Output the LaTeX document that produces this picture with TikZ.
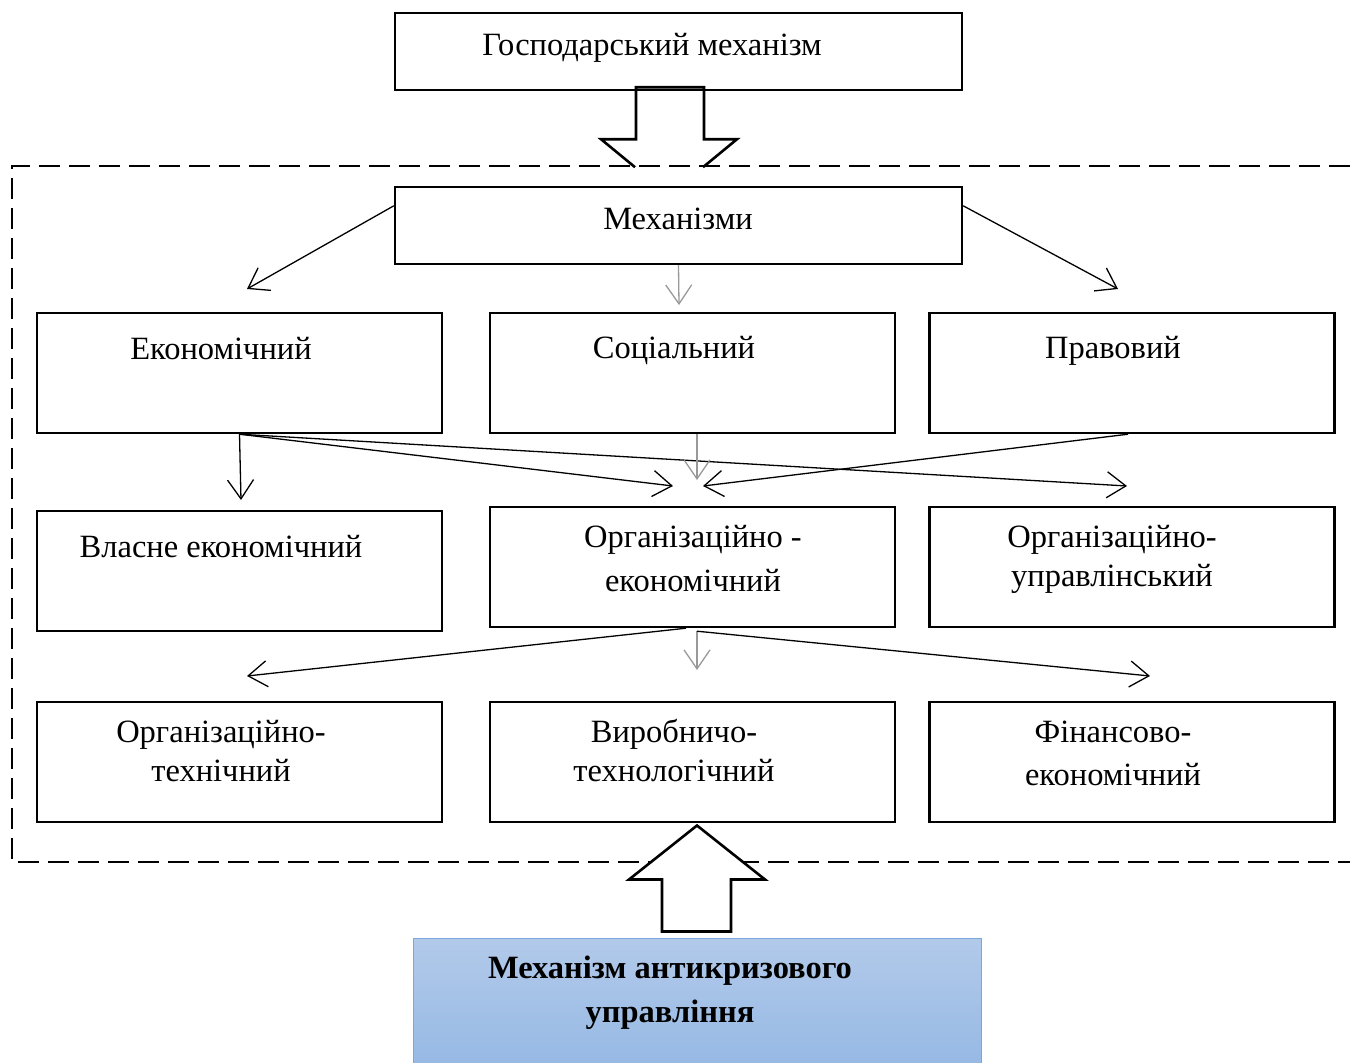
\documentclass[tikz,border=0pt]{standalone}
\usepackage{fontspec}
\setmainfont{Liberation Serif}
\usetikzlibrary{arrows.meta,positioning}
\definecolor{antitop}{HTML}{B2CAEA}
\definecolor{antibot}{HTML}{8DB3E2}
\definecolor{antiline}{HTML}{79A7DE}
\begin{document}
\begin{tikzpicture}[x=1pt, y=-1pt,
  box/.style={draw, line width=2.4pt, minimum width=405pt, minimum height=120pt, inner sep=0pt},
  widebox/.style={draw, line width=2.4pt, minimum width=567pt, minimum height=77pt, inner sep=0pt},
  txt/.style={font=\fontsize{32.5}{39}\selectfont, align=center, inner sep=0pt},
  link/.style={line width=1.3pt, -{Straight Barb[length=19pt,width=26pt,line width=1.3pt]}},
  glink/.style={link, gray!80},
  blockarrow/.style={draw, line width=2.6pt, fill=white, line join=miter}]
  \useasboundingbox (0,0) rectangle (1350,1063);
  % upper part
  \node[widebox] (top) at (678.5,51.5) {};
  \node[txt, anchor=base] (topT) at (652,55) {Господарський механізм};
  \draw[line width=2.6pt] (top.south) ++(-43.5,76) -- ++(-34,-28) -- ++(35,0) -- ++(0,-52)
    -- ++(68,0) -- ++(0,52) -- ++(33,0) -- ++(-34,28);
  \draw[line width=2.6pt, dash pattern=on 21pt off 9pt]
    (1350,166) -- (12,166) -- (12,862) -- (1350,862);
  \node[widebox] (mech) at (678.5,225.5) {};
  \node[txt, anchor=base] (mechT) at (678,229) {Механізми};
  % three rows of boxes
  \node[box] (eco) at (239.5,373) {};
  \node[box] (soc) at (692.5,373) {};
  \node[box] (law) at (1132,373) {};
  \node[box] (own) at (239.5,571) {};
  \node[box] (orgec) at (692.5,567) {};
  \node[box] (orgman) at (1132,567) {};
  \node[box] (orgtech) at (239.5,762) {};
  \node[box] (prod) at (692.5,762) {};
  \node[box] (fin) at (1132,762) {};
  \node[txt, anchor=base] (ecoT) at (221,359) {Економічний};
  \node[txt, anchor=base] (socT) at (674,358) {Соціальний};
  \node[txt, anchor=base] (lawT) at (1113,358) {Правовий};
  \node[txt, anchor=base] (ownT) at (221,557) {Власне економічний};
  \node[txt] (orgecT) at (693,558.5) {Організаційно -\\[5pt]економічний};
  \node[txt] (orgmanT) at (1112,559.5) {Організаційно-\\управлінський};
  \node[txt] (orgtechT) at (221,751) {Організаційно-\\технічний};
  \node[txt] (prodT) at (674,750.5) {Виробничо-\\технологічний};
  \node[txt] (finT) at (1113,753) {Фінансово-\\[4pt]економічний};
  % arrow ends
  \coordinate (toEco) at (247,289);
  \coordinate (toSoc) at (679,305);
  \coordinate (toLaw) at (1118,289);
  \coordinate (toOwn) at (241,500);
  \coordinate (toOrgL) at (673,486);
  \coordinate (toOrgD) at (697,480);
  \coordinate (toOrgR) at (703,486);
  \coordinate (toMan) at (1127,486);
  \coordinate (toTech) at (247,676);
  \coordinate (toProd) at (697,670);
  \coordinate (toFin) at (1150,676);
  \draw[link] ([yshift=-20pt]mech.north west) -- (toEco);
  \draw[glink] (mech.south) -- (toSoc);
  \draw[link] ([yshift=-20pt]mech.north east) -- (toLaw);
  \draw[link] (eco.south) -- (toOwn);
  \draw[link] (eco.south) -- (toOrgL);
  \draw[link] (eco.south) -- (toMan);
  \draw[glink] ([xshift=4.5pt]soc.south) -- (toOrgD);
  \draw[link] ([xshift=-4pt]law.south) -- (toOrgR);
  \draw[link] ([xshift=-6.5pt]orgec.south) -- (toTech);
  \draw[glink] ([xshift=4.5pt,yshift=-3pt]orgec.south) -- (toProd);
  \draw[link] ([xshift=4.5pt,yshift=-3pt]orgec.south) -- (toFin);
  % lower part
  \node[draw=antiline, line width=1pt, top color=antitop, bottom color=antibot,
    minimum width=568pt, minimum height=170pt, inner sep=0pt] (anti) at (697,1023) {};
  \node[txt, font=\fontsize{32.5}{44}\selectfont\bfseries] (antiT) at (670,993)
    {Механізм антикризового\\управління};
  \draw[blockarrow] (anti.north) ++(-35,-6) -- ++(0,-52) -- ++(-33,0) -- ++(68,-54)
    -- ++(68,54) -- ++(-34,0) -- ++(0,52) -- cycle;
\end{tikzpicture}
\end{document}
